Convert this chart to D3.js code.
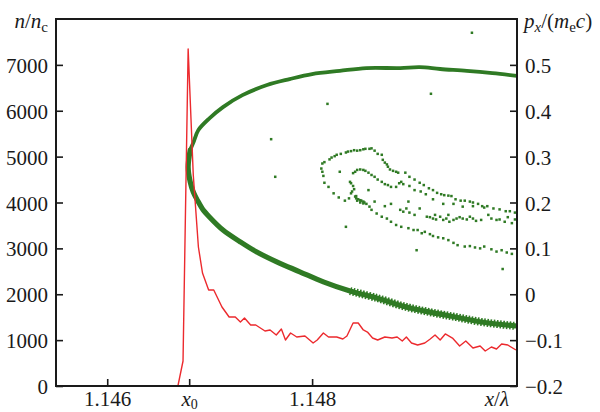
<!DOCTYPE html>
<html>
<head>
<meta charset="utf-8">
<script src="https://cdn.jsdelivr.net/npm/d3@7"></script>
<style>
  body { margin: 0; background: #fff; }
  svg text { font-family: 'Liberation Serif', 'Times New Roman', Times, serif; fill: #1a1a1a; }
</style>
</head>
<body>
<div id="chart"></div>
<script>
// density profile n/nc along x/lambda
const redX = [1.1455, 1.14669, 1.14674, 1.14679, 1.14684, 1.14689, 1.14693, 1.14699, 1.14704, 1.14712,
  1.14719, 1.14725, 1.14730, 1.14734, 1.14740, 1.14745, 1.14754, 1.14759, 1.14765, 1.14770,
  1.14774, 1.14779, 1.14785, 1.14793, 1.14801, 1.14805, 1.14811, 1.14816, 1.14824, 1.14830,
  1.14834, 1.14840, 1.14845, 1.14850, 1.14854, 1.14859, 1.14864, 1.14871, 1.14878, 1.14883,
  1.14888, 1.14892, 1.14897, 1.14903, 1.14910, 1.14915, 1.14920, 1.14925, 1.14930, 1.14937, 1.14944,
  1.14950, 1.14957, 1.14964, 1.14969, 1.14975, 1.14980, 1.14985, 1.14991, 1.14999];
const redN = [0, 0, 545, 7346, 4600, 3030, 2463, 2093, 2093, 1722,
  1504, 1504, 1395, 1482, 1330, 1330, 1199, 1221, 1112, 1242,
  1003, 1155, 1068, 1090, 937, 1003, 1155, 1068, 1068, 1025,
  1090, 1373, 1373, 1221, 1177, 1046, 1003, 1068, 1046, 1068,
  981, 1068, 937, 894, 937, 1020, 1112, 1003, 1134, 1046, 872,
  981, 828, 872, 763, 850, 807, 916, 894, 785];

// main phase-space arc px/(me c): upper branch (right to vertex) then lower branch
const arcX = [1.15000, 1.14976, 1.14951, 1.14925, 1.14905, 1.14886, 1.14853, 1.14827, 1.14800, 1.14778,
  1.14756, 1.14732, 1.14713, 1.14700, 1.14689, 1.14684, 1.14681, 1.14679,
  1.14681, 1.14684, 1.14688, 1.14693, 1.14700, 1.14713, 1.14730, 1.14746, 1.14766, 1.14788,
  1.14811, 1.14837, 1.14863, 1.14889, 1.14915, 1.14941, 1.14967, 1.14998];
const arcP = [0.476, 0.482, 0.487, 0.491, 0.495, 0.493, 0.493, 0.487, 0.480, 0.469,
  0.456, 0.434, 0.408, 0.384, 0.358, 0.330, 0.314, 0.277,
  0.245, 0.223, 0.205, 0.186, 0.168, 0.140, 0.114, 0.092, 0.070, 0.049,
  0.027, 0.007, -0.008, -0.026, -0.039, -0.050, -0.061, -0.069];
const vertexIndex = 17;

// scattered particles
const dotX = [1.14809, 1.14810, 1.14812, 1.14817, 1.14819, 1.14822, 1.14824, 1.14828, 1.14833, 1.14835,
  1.14838, 1.14841, 1.14844, 1.14847, 1.14850, 1.14852, 1.14856, 1.14858, 1.14861, 1.14864,
  1.14868, 1.14869, 1.14871, 1.14873, 1.14874, 1.14876, 1.14879, 1.14882, 1.14884,
  1.14891, 1.14895, 1.14900, 1.14905, 1.14909, 1.14914, 1.14918, 1.14922, 1.14926, 1.14929,
  1.14933, 1.14936, 1.14940, 1.14945, 1.14949, 1.14954, 1.14957, 1.14962, 1.14966, 1.14971,
  1.14977, 1.14983, 1.14989, 1.14993, 1.14998,
  1.14810, 1.14811, 1.14812, 1.14816, 1.14821, 1.14826, 1.14832, 1.14836,
  1.14840, 1.14842, 1.14844, 1.14847, 1.14850, 1.14852, 1.14855, 1.14858, 1.14861, 1.14864,
  1.14868, 1.14871, 1.14874, 1.14877, 1.14882, 1.14885, 1.14887, 1.14889,
  1.14837, 1.14838, 1.14840, 1.14841, 1.14839, 1.14838,
  1.14842, 1.14843, 1.14845, 1.14847, 1.14848, 1.14850, 1.14851, 1.14844, 1.14847, 1.14850, 1.14853, 1.14843,
  1.14856, 1.14858, 1.14863, 1.14868, 1.14873, 1.14877, 1.14882, 1.14887, 1.14894, 1.14899,
  1.14903, 1.14910, 1.14915, 1.14918, 1.14923, 1.14928, 1.14933, 1.14938, 1.14942, 1.14949,
  1.14954, 1.14959, 1.14964, 1.14968, 1.14975, 1.14980, 1.14985, 1.14990, 1.14995,
  1.14855, 1.14861, 1.14871, 1.14877, 1.14886, 1.14889, 1.14892, 1.14894, 1.14895, 1.14900,
  1.14905, 1.14912, 1.14915, 1.14918, 1.14920, 1.14921, 1.14925, 1.14928, 1.14931, 1.14933,
  1.14934, 1.14938, 1.14941, 1.14944, 1.14947, 1.14951, 1.14954, 1.14957, 1.14960, 1.14965,
  1.14972, 1.14975, 1.14980, 1.14983, 1.14988, 1.14991, 1.14995, 1.14998,
  1.14827, 1.14895, 1.14900, 1.14906, 1.14911, 1.14918, 1.14928, 1.14938, 1.14947, 1.14957, 1.14968,
  1.14907, 1.14833, 1.14902, 1.14986,
  1.14956, 1.14815, 1.14916, 1.14760, 1.14764];
const dotP = [0.274, 0.285, 0.288, 0.294, 0.298, 0.301, 0.304, 0.306, 0.309, 0.311,
  0.312, 0.314, 0.313, 0.314, 0.316, 0.317, 0.317, 0.318, 0.313, 0.306,
  0.304, 0.293, 0.287, 0.283, 0.278, 0.272, 0.269, 0.267, 0.265,
  0.265, 0.256, 0.250, 0.243, 0.238, 0.231, 0.227, 0.221, 0.218, 0.216,
  0.215, 0.214, 0.207, 0.204, 0.204, 0.202, 0.200, 0.197, 0.192, 0.192,
  0.187, 0.185, 0.181, 0.181, 0.178,
  0.267, 0.258, 0.243, 0.234, 0.220, 0.211, 0.204, 0.209,
  0.264, 0.267, 0.271, 0.272, 0.271, 0.269, 0.265, 0.260, 0.256, 0.250,
  0.245, 0.240, 0.238, 0.234, 0.234, 0.242, 0.245, 0.240,
  0.245, 0.242, 0.236, 0.229, 0.224, 0.220,
  0.213, 0.209, 0.207, 0.205, 0.204, 0.202, 0.200, 0.204, 0.200, 0.198, 0.197, 0.214,
  0.191, 0.184, 0.176, 0.169, 0.165, 0.158, 0.151, 0.147, 0.144, 0.140,
  0.140, 0.136, 0.131, 0.127, 0.124, 0.122, 0.118, 0.112, 0.107, 0.104,
  0.105, 0.102, 0.100, 0.104, 0.098, 0.093, 0.096, 0.091, 0.088,
  0.227, 0.202, 0.192, 0.197, 0.184, 0.180, 0.187, 0.202, 0.178, 0.173,
  0.187, 0.169, 0.168, 0.165, 0.173, 0.163, 0.169, 0.162, 0.165, 0.173,
  0.158, 0.162, 0.165, 0.168, 0.165, 0.163, 0.169, 0.165, 0.160, 0.162,
  0.173, 0.165, 0.162, 0.163, 0.158, 0.168, 0.155, 0.163,
  0.267, 0.236, 0.227, 0.224, 0.218, 0.207, 0.197, 0.197, 0.191, 0.192, 0.189,
  0.133, 0.147, 0.096, 0.055,
  0.570, 0.415, 0.437, 0.338, 0.256];

const leftTicks = [0, 1000, 2000, 3000, 4000, 5000, 6000, 7000];
const rightTicks = [-0.2, -0.1, 0, 0.1, 0.2, 0.3, 0.4, 0.5];
const bottomTicks = [1.146, 1.1468, 1.148];
const bottomLabels = ["1.146", "x0", "1.148"];

const W = 600, H = 412;
const margin = {top: 19, right: 83, bottom: 26, left: 56};
const innerW = W - margin.left - margin.right;
const innerH = H - margin.top - margin.bottom;
const serif = "'Liberation Serif', 'Times New Roman', Times, serif";

const svg = d3.select("#chart").append("svg")
  .attr("width", W)
  .attr("height", H)
  .attr("font-family", serif);

const g = svg.append("g")
  .attr("transform", "translate(" + margin.left + "," + margin.top + ")");

const x = d3.scaleLinear().domain([1.1455, 1.150]).range([0, innerW]);
const yN = d3.scaleLinear().domain([0, 8000]).range([innerH, 0]);
const yP = d3.scaleLinear().domain([-0.2, 0.6]).range([innerH, 0]);

g.append("clipPath").attr("id", "clip")
  .append("rect").attr("width", innerW).attr("height", innerH);

const green = "#2f7a24";
const plot = g.append("g").attr("clip-path", "url(#clip)");

const arc = arcX.map((d, i) => [d, arcP[i]]);
const arcLine = d3.line()
  .x(d => x(d[0]))
  .y(d => yP(d[1]))
  .curve(d3.curveCatmullRom);

// draw the arc in two halves so the lower branch can be thicker
const upper = arc.filter((d, i) => i <= vertexIndex + 1);
const lower = arc.filter((d, i) => i >= vertexIndex - 1);

plot.append("path")
  .attr("d", arcLine(upper))
  .attr("fill", "none")
  .attr("stroke", green)
  .attr("stroke-width", 3.8)
  .attr("stroke-linecap", "round");

plot.append("path")
  .attr("d", arcLine(lower))
  .attr("fill", "none")
  .attr("stroke", green)
  .attr("stroke-width", 5.2)
  .attr("stroke-linecap", "round");

// grainy outer part of the lower branch
const lowerOuter = arc.filter((d, i) => i > vertexIndex && d[0] > 1.1483);
plot.append("path")
  .attr("d", arcLine(lowerOuter))
  .attr("fill", "none")
  .attr("stroke", green)
  .attr("stroke-width", 8)
  .attr("stroke-dasharray", "1.6,1.6");

plot.append("g")
  .selectAll("rect")
  .data(dotX.map((d, i) => [d, dotP[i]]))
  .enter().append("rect")
  .attr("x", d => x(d[0]) - 1.25)
  .attr("y", d => yP(d[1]) - 1.25)
  .attr("width", 2.5)
  .attr("height", 2.5)
  .attr("fill", green);

const red = redX.map((d, i) => [d, redN[i]]);
plot.append("path")
  .attr("d", d3.line().x(d => x(d[0])).y(d => yN(d[1]))(red))
  .attr("fill", "none")
  .attr("stroke", "#ec2a2e")
  .attr("stroke-width", 1.4)
  .attr("stroke-linejoin", "round");

// axes, ticks pointing inwards
const fontSize = 21;

const leftAxis = g.append("g")
  .call(d3.axisLeft(yN).tickValues(leftTicks).tickSize(-7).tickPadding(8).tickFormat(d3.format("d")));

const rightAxis = g.append("g")
  .attr("transform", "translate(" + innerW + ",0)")
  .call(d3.axisRight(yP).tickValues(rightTicks).tickSize(-7).tickPadding(8)
    .tickFormat(d => d === 0 ? "0" : d3.format(".1f")(d)));

const bottomAxis = g.append("g")
  .attr("transform", "translate(0," + innerH + ")")
  .call(d3.axisBottom(x).tickValues(bottomTicks).tickSize(-7).tickPadding(8)
    .tickFormat((d, i) => bottomLabels[i]));

[leftAxis, rightAxis, bottomAxis].forEach(a => {
  a.attr("font-family", serif).attr("font-size", fontSize);
  a.select(".domain").remove();
  a.selectAll(".tick line").attr("stroke", "#1a1a1a").attr("stroke-width", 1.6);
  a.selectAll(".tick text").attr("fill", "#1a1a1a");
});

leftAxis.selectAll(".tick text").attr("dy", "0.36em");
rightAxis.selectAll(".tick text").attr("dy", "0.36em");
bottomAxis.selectAll(".tick text").attr("dy", 0).attr("y", 20);

// x0 label with subscript
bottomAxis.selectAll(".tick text")
  .filter((d, i) => bottomLabels[i] === "x0")
  .text(null)
  .call(t => {
    t.append("tspan").attr("font-style", "italic").text("x");
    t.append("tspan").attr("dy", 3).attr("font-size", 14).text("0");
  });

// frame
g.append("rect")
  .attr("width", innerW)
  .attr("height", innerH)
  .attr("fill", "none")
  .attr("stroke", "#1a1a1a")
  .attr("stroke-width", 2);

// axis titles
const tl = svg.append("text")
  .attr("x", 48).attr("y", 28)
  .attr("text-anchor", "end")
  .attr("font-size", fontSize);
tl.append("tspan").attr("font-style", "italic").text("n");
tl.append("tspan").text("/");
tl.append("tspan").attr("font-style", "italic").text("n");
tl.append("tspan").attr("dy", 4).attr("font-size", 15).text("c");

const tr = svg.append("text")
  .attr("x", 524).attr("y", 28)
  .attr("font-size", fontSize);
tr.append("tspan").attr("font-style", "italic").text("p");
tr.append("tspan").attr("dy", 4).attr("font-size", 15).attr("font-style", "italic").text("x");
tr.append("tspan").attr("dy", -4).text("/(");
tr.append("tspan").attr("font-style", "italic").text("m");
tr.append("tspan").attr("dy", 4).attr("font-size", 15).text("e");
tr.append("tspan").attr("dy", -4).attr("font-style", "italic").text("c");
tr.append("tspan").text(")");

const tb = svg.append("text")
  .attr("x", 509).attr("y", 406)
  .attr("text-anchor", "end")
  .attr("font-size", fontSize);
tb.append("tspan").attr("font-style", "italic").text("x");
tb.append("tspan").text("/");
tb.append("tspan").attr("font-style", "italic").text("λ");
</script>
</body>
</html>
